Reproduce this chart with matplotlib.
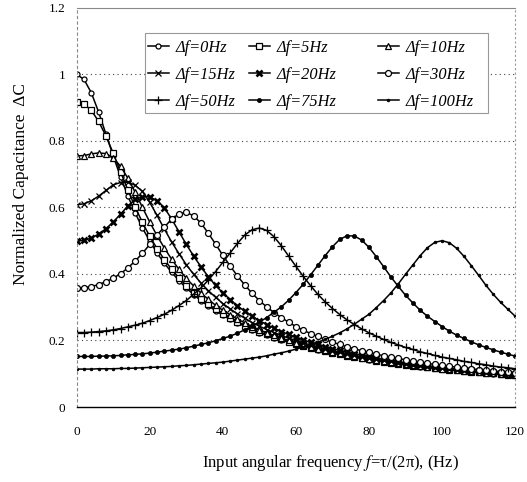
import matplotlib
matplotlib.use('Agg')
import matplotlib.pyplot as plt
from matplotlib.patches import Rectangle
from matplotlib.legend import Legend

plt.rcParams['font.family'] = ['Liberation Serif', 'DejaVu Serif']
plt.rcParams['mathtext.fontset'] = 'stix'

# input frequency (Hz), one marker every 2 Hz
freq = list(range(0, 121, 2))

# normalized capacitance, one list per detuning
c_0 = [1.000, 0.985, 0.945, 0.887, 0.821, 0.755, 0.692, 0.635, 0.584, 0.538,
       0.499, 0.463, 0.432, 0.405, 0.380, 0.358, 0.338, 0.320, 0.304, 0.290,
       0.276, 0.264, 0.253, 0.243, 0.233, 0.224, 0.216, 0.208, 0.201, 0.195,
       0.188, 0.182, 0.177, 0.172, 0.167, 0.162, 0.158, 0.154, 0.150, 0.146,
       0.142, 0.139, 0.136, 0.133, 0.130, 0.127, 0.124, 0.121, 0.119, 0.117,
       0.114, 0.112, 0.110, 0.108, 0.106, 0.104, 0.102, 0.100, 0.099, 0.097,
       0.095]
c_5 = [0.917, 0.911, 0.892, 0.859, 0.815, 0.763, 0.707, 0.653, 0.601, 0.555,
       0.513, 0.476, 0.443, 0.414, 0.388, 0.365, 0.344, 0.326, 0.309, 0.294,
       0.280, 0.267, 0.256, 0.245, 0.235, 0.226, 0.218, 0.210, 0.203, 0.196,
       0.189, 0.183, 0.178, 0.173, 0.168, 0.163, 0.158, 0.154, 0.150, 0.146,
       0.143, 0.139, 0.136, 0.133, 0.130, 0.127, 0.124, 0.122, 0.119, 0.117,
       0.115, 0.112, 0.110, 0.108, 0.106, 0.104, 0.102, 0.101, 0.099, 0.097,
       0.096]
c_10 = [0.755, 0.756, 0.761, 0.764, 0.762, 0.749, 0.724, 0.688, 0.646, 0.600,
        0.556, 0.515, 0.478, 0.444, 0.414, 0.387, 0.364, 0.343, 0.324, 0.306,
        0.291, 0.277, 0.264, 0.253, 0.242, 0.232, 0.223, 0.215, 0.207, 0.200,
        0.193, 0.187, 0.181, 0.175, 0.170, 0.165, 0.161, 0.156, 0.152, 0.148,
        0.144, 0.141, 0.137, 0.134, 0.131, 0.128, 0.125, 0.123, 0.120, 0.118,
        0.115, 0.113, 0.111, 0.109, 0.107, 0.105, 0.103, 0.101, 0.099, 0.098,
        0.096]
c_15 = [0.608, 0.611, 0.620, 0.634, 0.651, 0.668, 0.675, 0.676, 0.667, 0.648,
        0.615, 0.576, 0.535, 0.496, 0.461, 0.428, 0.399, 0.373, 0.350, 0.330,
        0.311, 0.295, 0.280, 0.267, 0.254, 0.243, 0.233, 0.224, 0.215, 0.207,
        0.200, 0.193, 0.186, 0.180, 0.175, 0.169, 0.164, 0.160, 0.155, 0.151,
        0.147, 0.143, 0.140, 0.137, 0.133, 0.130, 0.127, 0.125, 0.122, 0.119,
        0.117, 0.114, 0.112, 0.110, 0.108, 0.106, 0.104, 0.102, 0.100, 0.099,
        0.097]
c_20 = [0.499, 0.501, 0.508, 0.520, 0.536, 0.556, 0.580, 0.604, 0.624, 0.632,
        0.632, 0.620, 0.599, 0.565, 0.527, 0.489, 0.454, 0.422, 0.392, 0.366,
        0.343, 0.323, 0.304, 0.288, 0.273, 0.260, 0.248, 0.237, 0.227, 0.218,
        0.209, 0.202, 0.194, 0.188, 0.181, 0.175, 0.170, 0.165, 0.160, 0.156,
        0.151, 0.147, 0.143, 0.140, 0.136, 0.133, 0.130, 0.127, 0.124, 0.121,
        0.119, 0.116, 0.114, 0.112, 0.110, 0.107, 0.105, 0.104, 0.102, 0.100,
        0.098]
c_30 = [0.358, 0.359, 0.362, 0.368, 0.377, 0.387, 0.401, 0.418, 0.439, 0.462,
        0.489, 0.518, 0.541, 0.565, 0.581, 0.585, 0.575, 0.553, 0.523, 0.490,
        0.456, 0.424, 0.394, 0.367, 0.342, 0.320, 0.301, 0.284, 0.269, 0.255,
        0.242, 0.231, 0.221, 0.212, 0.203, 0.195, 0.188, 0.181, 0.175, 0.169,
        0.164, 0.159, 0.154, 0.150, 0.146, 0.142, 0.138, 0.135, 0.131, 0.128,
        0.125, 0.122, 0.120, 0.117, 0.115, 0.112, 0.110, 0.108, 0.106, 0.104,
        0.102]
c_50 = [0.224, 0.224, 0.225, 0.227, 0.229, 0.232, 0.236, 0.241, 0.246, 0.252,
        0.260, 0.269, 0.279, 0.291, 0.305, 0.320, 0.339, 0.358, 0.381, 0.407,
        0.435, 0.463, 0.492, 0.517, 0.533, 0.538, 0.531, 0.512, 0.485, 0.454,
        0.423, 0.393, 0.365, 0.339, 0.316, 0.296, 0.278, 0.262, 0.248, 0.235,
        0.223, 0.213, 0.203, 0.194, 0.187, 0.179, 0.173, 0.166, 0.161, 0.155,
        0.150, 0.146, 0.142, 0.137, 0.134, 0.130, 0.127, 0.123, 0.120, 0.118,
        0.115]
c_75 = [0.152, 0.152, 0.152, 0.153, 0.153, 0.154, 0.155, 0.157, 0.158, 0.160,
        0.162, 0.165, 0.168, 0.171, 0.174, 0.178, 0.183, 0.188, 0.193, 0.199,
        0.206, 0.213, 0.222, 0.232, 0.243, 0.255, 0.269, 0.285, 0.301, 0.321,
        0.344, 0.369, 0.397, 0.426, 0.455, 0.482, 0.504, 0.515, 0.514, 0.502,
        0.480, 0.452, 0.422, 0.391, 0.363, 0.336, 0.313, 0.291, 0.273, 0.257,
        0.242, 0.228, 0.216, 0.206, 0.196, 0.187, 0.179, 0.172, 0.165, 0.159,
        0.153]
c_100 = [0.114, 0.114, 0.114, 0.115, 0.115, 0.115, 0.116, 0.116, 0.117, 0.118,
         0.119, 0.120, 0.121, 0.122, 0.124, 0.125, 0.127, 0.129, 0.131, 0.133,
         0.135, 0.138, 0.141, 0.144, 0.147, 0.150, 0.154, 0.159, 0.163, 0.168,
         0.174, 0.180, 0.187, 0.195, 0.203, 0.213, 0.223, 0.235, 0.249, 0.264,
         0.279, 0.299, 0.320, 0.343, 0.370, 0.399, 0.427, 0.455, 0.479, 0.495,
         0.500, 0.494, 0.477, 0.453, 0.425, 0.396, 0.366, 0.339, 0.315, 0.294,
         0.273]

labels = ['Δf=0Hz', 'Δf=5Hz', 'Δf=10Hz', 'Δf=15Hz', 'Δf=20Hz', 'Δf=30Hz',
          'Δf=50Hz', 'Δf=75Hz', 'Δf=100Hz']
series = [c_0, c_5, c_10, c_15, c_20, c_30, c_50, c_75, c_100]

# marker style per curve (scanned Excel look)
styles = [
    dict(marker='o', ms=3.6, mfc='white', mew=0.9),
    dict(marker='s', ms=4.5, mfc='white', mew=0.9),
    dict(marker='^', ms=4.5, mfc='white', mew=0.9),
    dict(marker='x', ms=4.5, mew=0.9),
    dict(marker='x', ms=4.5, mew=1.9),
    dict(marker='o', ms=4.3, mfc='white', mew=0.9),
    dict(marker='+', ms=5.5, mew=0.9),
    dict(marker='o', ms=3, mfc='black', mew=0.5),
    dict(marker='o', ms=2, mfc='black', mew=0.5),
]

fig = plt.figure(figsize=(5.27, 4.82), dpi=100)
ax = fig.add_axes([0.1455, 0.1556, 0.832, 0.828])

lines = []
for vals, lab, st in zip(series, labels, styles):
    ln, = ax.plot(freq, vals, color='black', lw=1.1, mec='black', label=lab, **st)
    lines.append(ln)

ax.set_xlim(0, 120)
ax.set_ylim(0, 1.2)
ax.set_xticks([0, 20, 40, 60, 80, 100, 120])
ax.set_yticks([0, 0.2, 0.4, 0.6, 0.8, 1.0, 1.2])
ax.set_yticklabels(['0', '0.2', '0.4', '0.6', '0.8', '1', '1.2'])
ax.tick_params(length=0, labelsize=9.5)
ax.tick_params(axis='y', pad=8)
ax.tick_params(axis='x', pad=14)

# dotted gridlines, faint frame
for yv in [0.2, 0.4, 0.6, 0.8, 1.0]:
    ax.axhline(yv, color='#444444', lw=0.8, ls=(0, (1, 3)), zorder=0)
ax.spines['top'].set_color('#888888')
ax.spines['top'].set_linewidth(0.8)
ax.spines['left'].set_color('#888888')
ax.spines['left'].set_linestyle((0, (2, 3)))
ax.spines['left'].set_linewidth(0.8)
ax.spines['right'].set_color('#999999')
ax.spines['right'].set_linestyle((0, (1, 3)))
ax.spines['right'].set_linewidth(0.8)
ax.spines['bottom'].set_linewidth(1.0)

# legend box drawn by hand, then one legend per column (Excel spacing)
ax.add_patch(Rectangle((0.156, 0.737), 0.782, 0.2, transform=ax.transAxes,
                       facecolor='white', edgecolor='#999999', lw=0.8,
                       zorder=4))
col_x = [0.1467, 0.3771, 0.6714]
for k, x0 in enumerate(col_x):
    idx = [k, k + 3, k + 6]
    leg = Legend(ax, [lines[i] for i in idx], [labels[i] for i in idx],
                 loc='upper left', bbox_to_anchor=(x0, 0.937),
                 bbox_transform=ax.transAxes,
                 borderaxespad=0, frameon=False,
                 prop={'style': 'italic', 'size': 11.8},
                 handlelength=1.3, labelspacing=0.68,
                 handletextpad=0.4, borderpad=0.4)
    leg.set_zorder(5)
    ax.add_artist(leg)

fig.text(0.628, 0.039, 'Input angular frequency $f$=τ/(2π), (Hz)',
         ha='center', va='center', fontsize=12)
fig.text(0.040, 0.618, 'Normalized Capacitance  ΔC', rotation=90,
         ha='center', va='center', fontsize=12.5)

fig.savefig('out.png', dpi=100)
